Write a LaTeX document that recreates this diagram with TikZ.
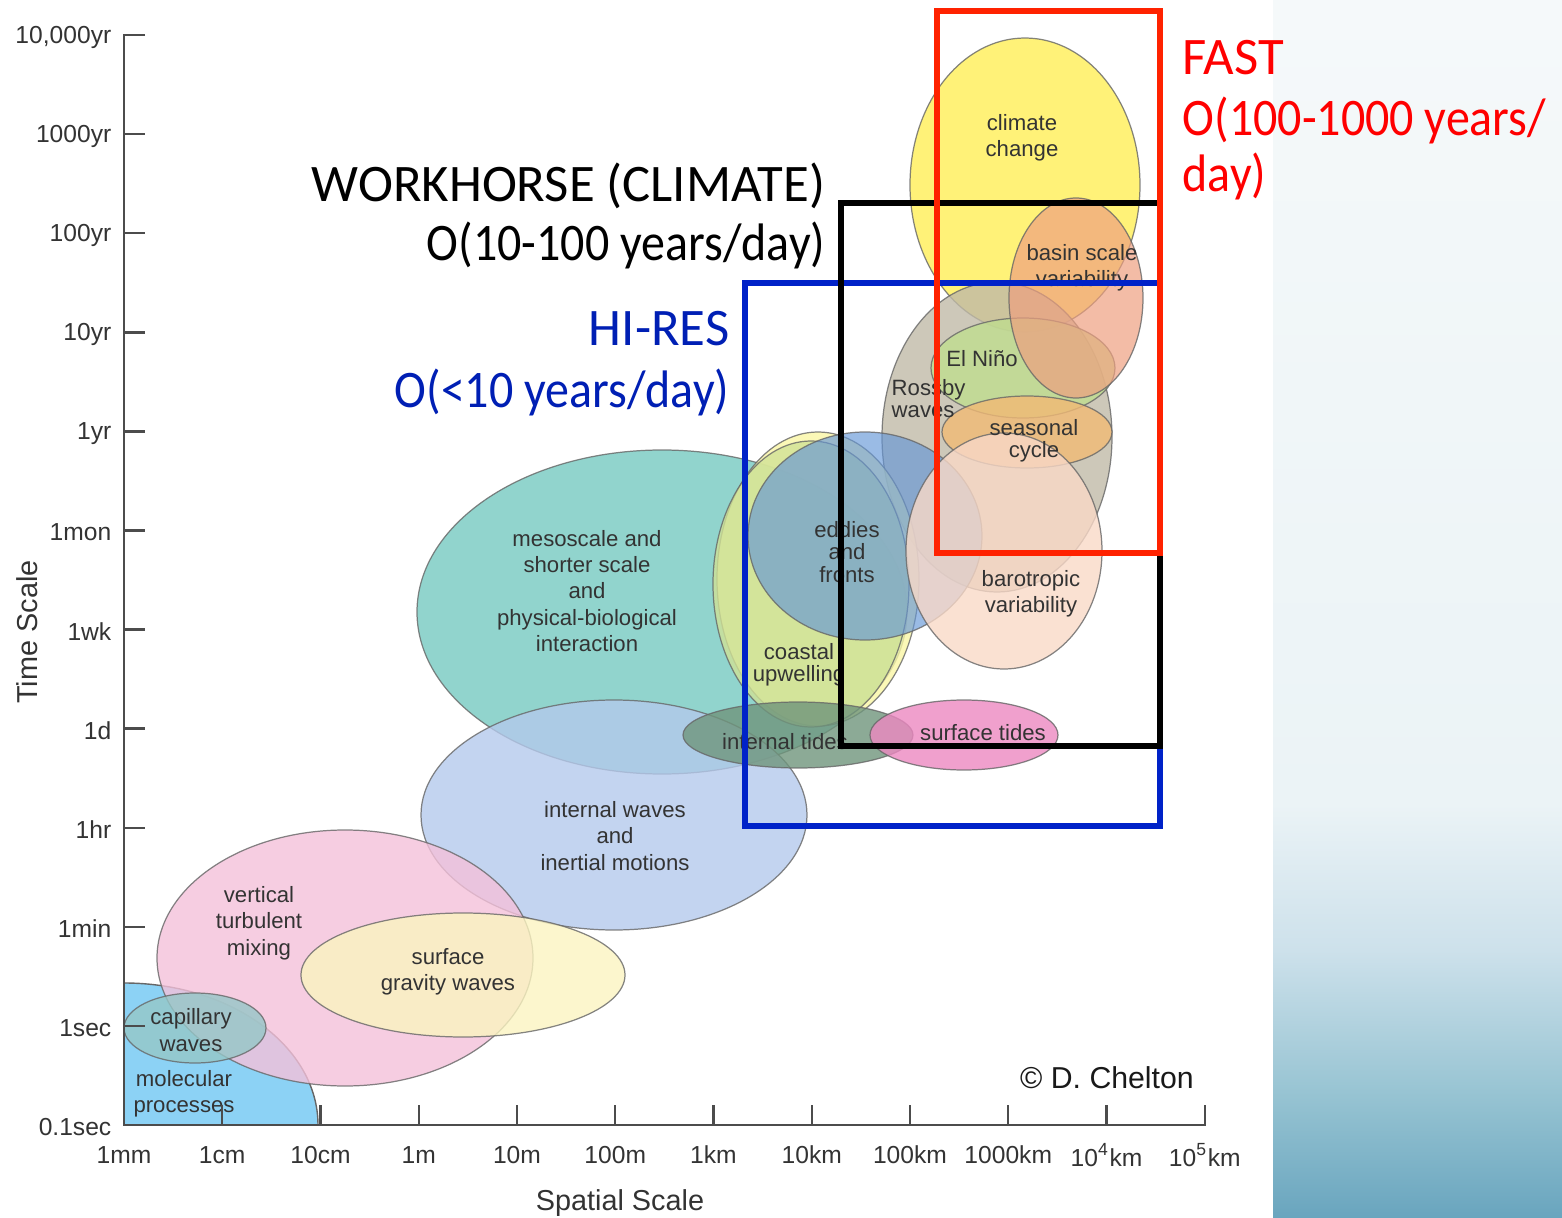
\documentclass[tikz,border=0pt]{standalone}
\usepackage{fontspec}
\usepackage{graphicx}
\setmainfont{Liberation Sans}
\newfontfamily\slidefont{Carlito}
\usetikzlibrary{positioning}

\definecolor{climc}{RGB}{255,239,86}
\definecolor{basinc}{RGB}{238,160,128}
\definecolor{rossbyc}{RGB}{192,186,167}
\definecolor{ninoc}{RGB}{192,221,143}
\definecolor{seasonc}{RGB}{242,186,117}
\definecolor{baroc}{RGB}{249,217,199}
\definecolor{eddyc}{RGB}{100,150,215}
\definecolor{coastc}{RGB}{208,226,150}
\definecolor{coastrim}{RGB}{250,246,165}
\definecolor{mesoc}{RGB}{117,201,192}
\definecolor{itidec}{RGB}{111,149,124}
\definecolor{stidec}{RGB}{236,136,193}
\definecolor{iwavec}{RGB}{180,201,236}
\definecolor{mixc}{RGB}{244,193,218}
\definecolor{gravc}{RGB}{251,244,192}
\definecolor{capc}{RGB}{149,199,199}
\definecolor{molc}{RGB}{140,210,245}
\definecolor{fastred}{RGB}{255,34,0}
\definecolor{hiresblue}{RGB}{0,34,200}
\definecolor{striptop}{RGB}{245,249,250}
\definecolor{striplight}{RGB}{235,243,246}
\definecolor{stripmid}{RGB}{205,225,235}
\definecolor{stripdark}{RGB}{150,195,210}
\definecolor{stripbot}{RGB}{105,165,190}
\pgfdeclareverticalshading{stripshade}{100bp}{color(0bp)=(stripbot); color(25bp)=(stripbot); color(30bp)=(stripdark); color(36bp)=(stripmid); color(42bp)=(striplight); color(75bp)=(striptop); color(100bp)=(striptop)}

\tikzset{
    blob/.style={draw=black!60, draw opacity=0.8, line width=0.35pt, fill=#1, fill opacity=0.8},
    lbl/.style={font=\fontsize{6.3}{7.5}\selectfont, align=center, text=black!80, inner sep=0pt},
    lbltight/.style={lbl, font=\fontsize{6.3}{6.3}\selectfont},
    ticklbl/.style={font=\fontsize{7}{8}\selectfont, text=black!80, inner sep=0pt},
    axisline/.style={draw=black!70, line width=0.7pt},
    frame/.style={draw=#1, line width=1.7pt},
    slide/.style={font=\slidefont\fontsize{15}{16.5}\selectfont, inner sep=0pt}
}
\newcommand{\narrow}[1]{\scalebox{0.91}[1]{#1}}

\begin{document}
\begin{tikzpicture}[x=0.01cm, y=-0.01cm]
 \useasboundingbox (0,0) rectangle (1562,1218);
 \shade[shading=stripshade] (1273,0) rectangle (1562,1218);

 % scales
 \draw[blob=climc] (1025,185) ellipse [x radius=115, y radius=147];
 \draw[blob=rossbyc] (997,437) ellipse [x radius=115, y radius=155];
 \draw[blob=ninoc] (1023,368) ellipse [x radius=92, y radius=50];
 \draw[blob=basinc, fill opacity=0.7] (1076,298) ellipse [x radius=67, y radius=100];
 \draw[blob=seasonc] (1027,432) ellipse [x radius=85, y radius=36];
 \draw[blob=mesoc] (662,612) ellipse [x radius=245, y radius=162];
 \draw[blob=iwavec] (614,815) ellipse [x radius=193, y radius=115];
 \draw[blob=coastrim] (818,579) ellipse [x radius=101, y radius=147];
 \draw[blob=coastc] (811,584) ellipse [x radius=98, y radius=143];
 \draw[blob=eddyc, fill opacity=0.65] (865,536) ellipse [x radius=117, y radius=104];
 \draw[blob=baroc] (1004,551) ellipse [x radius=98, y radius=118];
 \draw[blob=itidec] (798,735) ellipse [x radius=115, y radius=33];
 \draw[blob=stidec] (964,735) ellipse [x radius=94, y radius=35];
 \fill[molc] (124,1125) -- (124,983) arc [start angle=-90, end angle=0, x radius=194, y radius=142] -- cycle;
 \draw[draw=black!60] (124,983) arc [start angle=-90, end angle=0, x radius=194, y radius=142];
 \draw[blob=mixc] (345,958) ellipse [x radius=188, y radius=128];
 \draw[blob=gravc] (463,975) ellipse [x radius=162, y radius=62];
 \draw[blob=capc] (195,1028) ellipse [x radius=71, y radius=35];

 \node[lbl] (lclimate) at (1022,138) {climate\\change};
 \node[lbl] (lbasin) at (1082,268) {basin scale\\variability};
 \node[lbl] (lnino) at (982,359) {El Niño};
 \node[lbltight, align=left, anchor=west] (lrossby) at (891,399) {Rossby\\waves};
 \node[lbltight] (lseason) at (1034,441) {seasonal\\cycle};
 \node[lbl] (lbaro) at (1031,594) {barotropic\\variability};
 \node[lbltight] (leddy) at (847,552) {eddies\\and\\fronts};
 \node[lbltight] (lcoast) at (799,665) {coastal\\upwelling};
 \node[lbl] (lmeso) at (587,591) {mesoscale and\\shorter scale\\and\\physical-biological\\interaction};
 \node[lbl] (litide) at (785,742) {internal tides};
 \node[lbl] (lstide) at (983,733) {surface tides};
 \node[lbl] (liwave) at (615,836) {internal waves\\and\\inertial motions};
 \node[lbl] (lmix) at (259,923) {vertical\\turbulent\\mixing};
 \node[lbl] (lgrav) at (448,972) {surface\\gravity waves};
 \node[lbl] (lcap) at (191,1030) {capillary\\waves};
 \node[lbl] (lmol) at (184,1094) {molecular\\processes};

 % axes
 \draw[axisline] (145,35) -- (124,35) -- (124,1125) -- (1205,1125) -- (1205,1105);
 \foreach \txt [count=\k from 0] in {{10,000yr},1000yr,100yr,10yr,1yr,1mon,1wk,1d,1hr,1min,1sec,0.1sec}{
   \node[ticklbl, anchor=east] (ylab\k) at (112,37+99.1*\k) {\txt};
   \ifnum\k<11 \draw[axisline] (124,35+99.1*\k) -- (145,35+99.1*\k); \fi
 }
 \foreach \txt [count=\k from 0] in {1mm,1cm,10cm,1m,10m,100m,1km,10km,100km,1000km,10\textsuperscript{4}km,10\textsuperscript{5}km}{
   \node[ticklbl] (xlab\k) at (124+98.25*\k,1155) {\txt};
   \ifnum\k>0 \draw[axisline] (124+98.25*\k,1125) -- (124+98.25*\k,1105); \fi
 }
 \node[font=\fontsize{8.2}{9}\selectfont, text=black!80, rotate=90] (ytitle) at (27,632) {Time Scale};
 \node[font=\fontsize{8.2}{9}\selectfont, text=black!80] (xtitle) at (620,1203) {Spatial Scale};
 \node[font=\fontsize{8.6}{9}\selectfont, text=black!90] (credit) at (1107,1078) {© D. Chelton};

 % model classes
 \draw[frame=hiresblue] (745,283) rectangle (1160,826);
 \draw[frame=black] (841,203) rectangle (1160,746);
 \draw[frame=fastred] (937,11) rectangle (1160,553);

 \node[slide, text=red, anchor=base west] (fast) at (1182,74) {FAST};
 \node[slide, text=red, anchor=base west] (fastrate) at (1182,135) {\narrow{O(100-1000 years/}};
 \node[slide, text=red, anchor=base west] (fastday) at (1182,191) {\narrow{day)}};
 \node[slide, anchor=base east] (work) at (826,202) {WORKHORSE (CLIMATE)};
 \node[slide, anchor=base east] (workrate) at (826,260) {\narrow{O(10-100 years/day)}};
 \node[slide, text=hiresblue!90!black, anchor=base east] (hires) at (730,345) {HI-RES};
 \node[slide, text=hiresblue!90!black, anchor=base east] (hiresrate) at (730,407) {\narrow{O(<10 years/day)}};
\end{tikzpicture}
\end{document}
